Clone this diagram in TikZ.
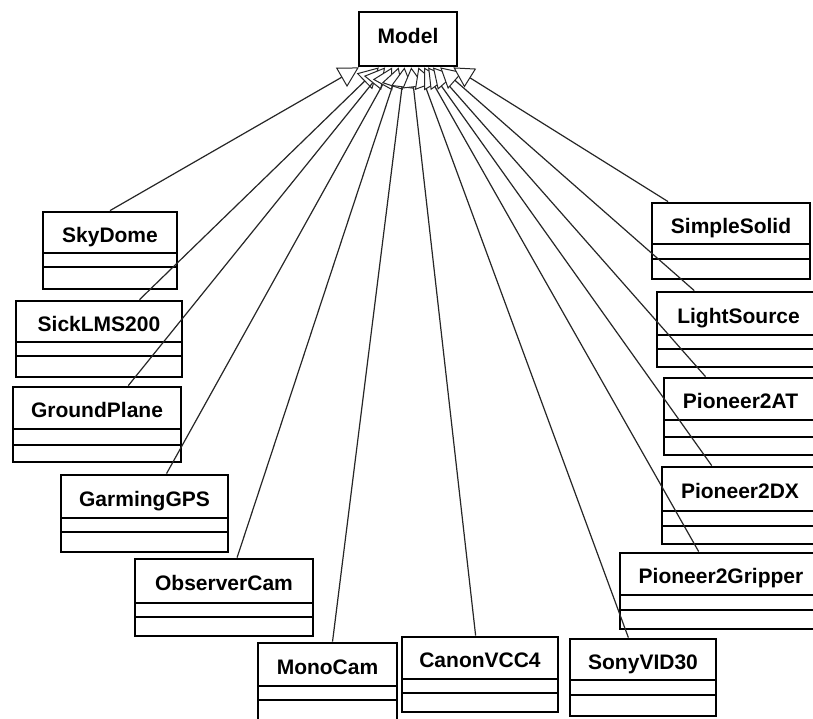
\documentclass[tikz,border=0pt]{standalone}
\usepackage{fontspec}
\setmainfont{Liberation Sans}
\usetikzlibrary{arrows.meta}
\tikzset{
  classbox/.style={draw=black, line width=2.8pt, inner sep=0pt, rectangle},
  compline/.style={draw=black, line width=1.3pt},
  classname/.style={font=\bfseries\fontsize{21}{25}\selectfont, inner sep=0pt, anchor=base},
  inherit/.style={draw=black!85, line width=1.2pt,
    -{Triangle[length=20pt,width=22pt,fill=white,line width=1pt]}},
}
% name, x1, y1, x2, y2, line1, line2, text
\newcommand\umlclass[8]{%
  \pgfmathsetmacro\umlW{#4-#2}\pgfmathsetmacro\umlH{#5-#3}%
  \pgfmathsetmacro\umlX{(#2+#4)/2}\pgfmathsetmacro\umlY{(#3+#5)/2}%
  \pgfmathsetmacro\umlT{(#3+#6)/2+9.5}%
  \node[classbox, minimum width=\umlW pt, minimum height=\umlH pt] (#1) at (\umlX,\umlY) {};
  \draw[compline] (#2,#6) -- (#4,#6);
  \draw[compline] (#2,#7) -- (#4,#7);
  \node[classname] (#1-name) at (\umlX,\umlT) {#8};
}
\begin{document}
\begin{tikzpicture}[x=1pt,y=-1pt]
\useasboundingbox (0,0) rectangle (813,718);
\clip (0,0) rectangle (813,718);
\fill[white] (0,0) rectangle (813,718);
% root
\node[classbox, minimum width=98pt, minimum height=54pt] (model) at (408,39) {};
\node[classname] (model-name) at (408,43.5) {Model};
% left column
\umlclass{sky}{43}{212}{177}{289}{253}{267}{SkyDome}
\umlclass{sick}{16}{301}{182}{377}{342}{356}{SickLMS200}
\umlclass{ground}{13}{387}{181}{462}{429}{445}{GroundPlane}
\umlclass{gps}{61}{475}{228}{552}{518}{532}{GarmingGPS}
\umlclass{obs}{135}{559}{313}{636}{603}{617}{ObserverCam}
\umlclass{mono}{258}{643}{397}{721}{686}{700}{MonoCam}
\umlclass{canon}{402}{637}{558}{712}{679}{693}{CanonVCC4}
\umlclass{sony}{570}{639}{716}{716}{680}{695}{SonyVID30}
% right column
\umlclass{simple}{652}{203}{810}{279}{244}{259}{SimpleSolid}
\umlclass{light}{657}{292}{820}{367}{335}{349}{LightSource}
\umlclass{at}{664}{378}{817}{455}{420}{437}{Pioneer2AT}
\umlclass{dx}{662}{467}{818}{544}{511}{526}{Pioneer2DX}
\umlclass{gripper}{620}{553}{822}{629}{595}{610}{Pioneer2Gripper}
% generalisations
\draw[inherit] (sky.north) -- (model);
\foreach \c in {sick,ground,gps,obs,mono,canon,sony,gripper,dx,at,light,simple}
  \draw[inherit] (\c) -- (model);
\end{tikzpicture}
\end{document}
